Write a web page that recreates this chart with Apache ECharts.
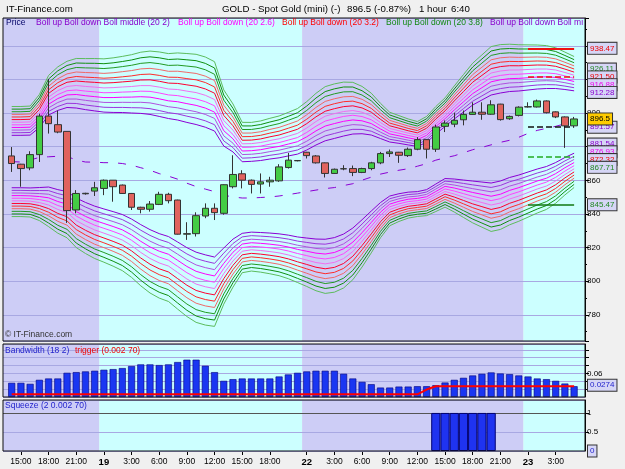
<!DOCTYPE html>
<html>
<head>
<meta charset="utf-8">
<script src="https://cdn.jsdelivr.net/npm/echarts@6/dist/echarts.min.js"></script>
<style>
html, body { margin: 0; padding: 0; background: #f0f0f0; }
#chart { width: 625px; height: 469px; }
</style>
</head>
<body>
<div id="chart"></div>
<script>
// hourly sessions shown on the chart
const sessionDays = [18, 19, 22, 23];
const sessionStartHour = [14, 0, 0, 0];
const sessionBarCount = [10, 22, 24, 6];

// candles (1 hour)
const opens = [874.5, 869.6, 867.4, 875.3, 898.2, 893.1, 889.1, 842.4, 852.0, 853.6,
  855.2, 860.1, 857.2, 852.2, 844.0, 842.8, 845.7, 851.7, 848.3, 828.0,
  828.3, 838.8, 843.4, 840.4, 856.2, 863.9, 860.1, 857.8, 859.1, 859.7,
  867.6, 871.8, 876.7, 874.5, 870.4, 864.1, 866.8, 867.0, 864.7, 867.0,
  870.4, 875.9, 876.7, 874.7, 878.5, 884.2, 878.5, 892.1, 893.4, 896.0,
  899.2, 900.5, 899.3, 905.3, 896.6, 898.6, 903.6, 903.6, 907.2, 900.7,
  897.7, 892.4];
const closes = [870.0, 867.0, 875.3, 898.2, 893.7, 888.7, 842.0, 852.2, 852.3, 855.6,
  860.1, 856.2, 852.2, 844.0, 842.8, 845.9, 851.7, 847.9, 828.0, 828.3,
  839.0, 843.4, 840.8, 857.4, 863.5, 860.1, 857.6, 859.1, 860.1, 868.0,
  872.0, 871.6, 874.7, 870.4, 864.1, 866.6, 866.9, 864.7, 867.0, 870.4,
  875.9, 876.9, 874.9, 878.5, 884.2, 878.5, 891.7, 894.0, 895.7, 899.2,
  900.5, 899.3, 904.9, 896.1, 898.0, 903.5, 903.8, 907.2, 900.2, 897.7,
  892.4, 896.5];
const lows = [865.0, 856.2, 866.0, 870.9, 887.8, 888.0, 834.7, 840.4, 851.5, 850.7,
  851.2, 847.3, 852.0, 842.4, 840.4, 841.4, 845.3, 846.3, 827.8, 824.6,
  826.6, 837.5, 836.4, 839.6, 855.2, 855.2, 852.2, 852.2, 856.2, 859.1,
  867.0, 871.3, 873.0, 870.0, 861.7, 863.8, 866.0, 862.5, 864.3, 866.0,
  869.6, 873.9, 870.4, 873.9, 877.9, 873.0, 876.9, 888.7, 891.6, 892.7,
  899.0, 896.0, 899.0, 895.5, 896.0, 898.0, 903.3, 903.3, 899.8, 897.0,
  879.3, 892.0];
const highs = [879.8, 869.8, 877.3, 899.6, 920.3, 901.5, 889.1, 854.2, 852.6, 859.1,
  860.5, 860.1, 857.5, 852.5, 844.3, 847.7, 853.2, 852.6, 848.5, 835.1,
  841.0, 846.3, 846.3, 857.6, 874.9, 866.0, 860.5, 864.1, 862.1, 869.6,
  876.3, 872.0, 876.9, 875.0, 870.6, 867.0, 869.0, 868.8, 867.5, 871.0,
  876.9, 878.3, 876.9, 879.5, 885.7, 884.4, 893.1, 895.6, 900.2, 901.5,
  906.4, 906.4, 907.6, 905.5, 898.5, 904.0, 906.4, 908.0, 907.5, 901.0,
  898.0, 897.7];

const bandCenter = [871.18, 871.18, 871.18, 873.56, 877.43, 878.02, 878.32, 876.24, 874.45, 872.97,
  871.78, 870.89, 870.0, 868.51, 866.73, 864.94, 863.16, 861.67, 859.59, 857.21,
  855.25, 853.65, 851.86, 850.08, 850.97, 849.78, 850.26, 850.38, 850.67, 850.79,
  850.97, 850.97, 851.86, 853.05, 854.24, 855.43, 857.21, 859.59, 862.15, 864.35,
  865.83, 866.73, 867.02, 867.02, 866.73, 868.51, 872.67, 876.54, 878.62, 880.4,
  882.18, 883.37, 884.56, 885.75, 887.24, 888.13, 889.32, 890.51, 891.4, 892.59,
  893.78, 894.67];
const bandSd = [7.79, 7.79, 7.85, 8.92, 10.7, 11.77, 12.49, 13.38, 13.79, 14.15,
  14.39, 14.74, 15.16, 15.76, 16.53, 17.12, 17.42, 17.54, 18.13, 18.61,
  18.97, 18.97, 18.73, 15.16, 12.96, 10.64, 10.52, 10.7, 11.0, 11.3,
  11.77, 12.31, 13.08, 13.97, 14.63, 14.74, 14.57, 13.97, 12.78, 11.3,
  9.51, 8.03, 7.49, 7.02, 6.72, 7.02, 7.43, 7.73, 8.92, 10.11,
  11.3, 12.19, 13.08, 13.08, 12.78, 12.49, 12.19, 11.89, 11.59, 11.0,
  10.11, 9.27];
// dashed Boll middle line
const bollMiddle = [871.1, 870.9, 872.0, 873.7, 874.0, 874.3, 874.3, 872.0, 870.9, 870.8,
  870.5, 870.5, 870.0, 869.0, 867.5, 866.0, 864.0, 862.5, 860.7, 858.3,
  856.3, 854.8, 853.3, 851.2, 850.1, 849.5, 849.5, 849.8, 850.1, 850.7,
  851.5, 852.4, 853.3, 854.2, 855.1, 855.7, 856.9, 858.0, 860.1, 861.9,
  863.7, 864.9, 866.0, 866.9, 868.4, 869.9, 872.0, 873.4, 874.6, 876.4,
  878.2, 879.6, 881.1, 882.6, 883.8, 885.6, 887.9, 889.7, 890.9, 892.1,
  893.6, 894.4];
const bandK = [2.0, 2.2, 2.4, 2.6, 2.8, 3.0, 3.2, 3.4, 3.6, 3.8, 4.0, 4.2];
const bandColors = ['#8a00d4', '#9b35dd', '#b050e0', '#ff00ff', '#ff44ff', '#f070f0',
  '#ff0030', '#ff2a2a', '#f06868', '#229a22', '#0f900f', '#5cbc5c'];

// Bandwidth (18 2) and trigger
const bandwidth = [0.036, 0.036, 0.0334, 0.0437, 0.0471, 0.0471, 0.0616, 0.0633, 0.0651, 0.0668,
  0.0693, 0.071, 0.0736, 0.0788, 0.083, 0.083, 0.0813, 0.083, 0.089, 0.095,
  0.095, 0.0796, 0.0633, 0.0411, 0.0454, 0.0471, 0.0471, 0.0471, 0.0471, 0.0522,
  0.0574, 0.0616, 0.0651, 0.0668, 0.0668, 0.0668, 0.0591, 0.0471, 0.0385, 0.0325,
  0.024, 0.024, 0.0265, 0.0265, 0.0274, 0.0274, 0.030, 0.0368, 0.0437, 0.0488,
  0.0548, 0.0591, 0.0625, 0.0599, 0.0582, 0.0548, 0.0522, 0.0471, 0.0454, 0.0411,
  0.0342, 0.0274];
const trigger = [0.0068, 0.0068, 0.0068, 0.0068, 0.0068, 0.0068, 0.0068, 0.0068, 0.0068, 0.0068,
  0.0068, 0.0068, 0.0068, 0.0068, 0.0068, 0.0068, 0.0068, 0.0068, 0.0068, 0.0068,
  0.0068, 0.0068, 0.0068, 0.0068, 0.0068, 0.0068, 0.0068, 0.0068, 0.0068, 0.0068,
  0.0068, 0.0068, 0.0068, 0.0068, 0.0068, 0.0068, 0.0068, 0.0068, 0.0068, 0.0068,
  0.0068, 0.0068, 0.0068, 0.0068, 0.0068, 0.019, 0.0274, 0.0274, 0.0274, 0.0274,
  0.0274, 0.0274, 0.0274, 0.0274, 0.0274, 0.0274, 0.0274, 0.0274, 0.0274, 0.0274,
  0.0274, 0.0274];
// Squeeze (2 0.002 70)
const squeeze = [0, 0, 0, 0, 0, 0, 0, 0, 0, 0, 0, 0, 0, 0, 0, 0, 0, 0, 0, 0,
  0, 0, 0, 0, 0, 0, 0, 0, 0, 0, 0, 0, 0, 0, 0, 0, 0, 0, 0, 0,
  0, 0, 0, 0, 0, 0, 1, 1, 1, 1, 1, 1, 1, 0, 0, 0, 0, 0, 0, 0, 0, 0];

// value tags on the right price scale
const tagValues = [938.47, 926.11, 921.50, 916.88, 912.28, 891.57, 881.54, 876.93, 872.32, 867.71, 845.47];
const tagColors = ['#ee0000', '#228822', '#ee0000', '#ee00ee', '#8800cc', '#8800cc', '#8800cc', '#ee00ee', '#ee0000', '#228822', '#228822'];
const lastPrice = 896.5;
const lastBandwidth = 0.0274;
const lastSqueeze = 0;

// short level lines over the last session
const levelValues = [938.47, 921.50, 891.57, 874.30, 845.47];
const levelColors = ['#ee1111', '#ee1111', '#111111', '#22aa22', '#117711'];
const levelTypes = ['solid', 'dashed', 'dashed', 'dashed', 'solid'];
const levelWidths = [2, 1.5, 1.5, 1.5, 1.5];
const levelFrom = 56, levelTo = 61;

// categories
const categories = [], hours = [], dayOf = [];
sessionDays.forEach((d, s) => {
  for (let h = 0; h < sessionBarCount[s]; h++) {
    const hr = sessionStartHour[s] + h;
    hours.push(hr);
    dayOf.push(d);
    categories.push(d + ' ' + hr + ':00');
  }
});
const N = categories.length;
const dayStarts = hours.map((h, i) => (h === 0 ? i : -1)).filter(i => i >= 0);

// layout
const W = 625;
const SLOT = 9.22;
const DATA_LEFT = 7.09;
const FRAME_LEFT = 3, FRAME_RIGHT = 585;
const dataRight = W - (DATA_LEFT + SLOT * N);
const frameMin = (FRAME_LEFT - DATA_LEFT) / SLOT;
const frameMax = (FRAME_RIGHT - DATA_LEFT) / SLOT;
const panels = [{ top: 18, bottom: 341 }, { top: 344, bottom: 397 }, { top: 400, bottom: 451 }];
const FONT = 'Liberation Sans';
const LAVENDER = '#cdcdf6', CYAN = '#ccffff', GRIDLINE = '#a8a8e2';

const grids = [];
panels.forEach(p => {
  grids.push({ left: FRAME_LEFT, right: W - FRAME_RIGHT, top: p.top, height: p.bottom - p.top,
    show: true, borderColor: '#111', borderWidth: 1, z: 4 });
  grids.push({ left: DATA_LEFT, right: dataRight, top: p.top, height: p.bottom - p.top, show: false });
});

function showLabel(i) {
  if (hours[i] % 3 !== 0) return false;
  if (hours[i] !== 0 && (hours[i + 1] === 0 || hours[i + 2] === 0)) return false;
  return true;
}

const xAxes = [];
panels.forEach((p, k) => {
  xAxes.push({ gridIndex: 2 * k, type: 'value', min: frameMin, max: frameMax, show: false });
  const last = k === panels.length - 1;
  xAxes.push({
    gridIndex: 2 * k + 1, type: 'category', data: categories, boundaryGap: true,
    axisLine: { show: false, onZero: false },
    axisTick: last ? { show: true, interval: (i) => showLabel(i), alignWithLabel: true, length: 4,
      lineStyle: { color: '#000' } } : { show: false },
    axisLabel: last ? {
      show: true, interval: (i) => showLabel(i), margin: 6, fontSize: 8.5, color: '#000', fontFamily: FONT,
      formatter: (v, i) => hours[i] === 0 ? '{d|' + dayOf[i] + '}' : hours[i] + ':00',
      rich: { d: { fontWeight: 'bold', fontSize: 9.5, fontFamily: FONT, color: '#000' } }
    } : { show: false },
    splitLine: { show: false }
  });
});

const axisCommon = {
  position: 'right', z: 2,
  axisLine: { show: true, onZero: false, lineStyle: { color: '#000' } },
  axisTick: { show: true, length: 4, lineStyle: { color: '#000' } },
  splitLine: { show: true, lineStyle: { color: GRIDLINE, width: 1 } }
};
const yAxes = [
  Object.assign({}, axisCommon, {
    gridIndex: 0, type: 'value', min: 764.5, max: 956.5, splitNumber: 10,
    minorTick: { show: true, splitNumber: 2, length: 2, lineStyle: { color: '#000' } },
    axisLabel: { showMinLabel: false, showMaxLabel: false, fontSize: 8, margin: 2, color: '#000', fontFamily: FONT }
  }),
  { gridIndex: 1, type: 'value', min: 764.5, max: 956.5, show: false },
  Object.assign({}, axisCommon, {
    gridIndex: 2, type: 'value', min: 0, max: 0.135, interval: 0.02,
    axisLabel: { showMinLabel: false, showMaxLabel: false, fontSize: 8, margin: 2, color: '#000', fontFamily: FONT,
      formatter: v => Math.abs(v - 0.06) < 1e-6 ? '0.06' : '' }
  }),
  { gridIndex: 3, type: 'value', min: 0, max: 0.135, show: false },
  Object.assign({}, axisCommon, {
    gridIndex: 4, type: 'value', min: 0, max: 1.34, interval: 0.5,
    splitLine: { show: true, lineStyle: { color: [GRIDLINE, GRIDLINE, '#555', GRIDLINE], width: 1 } },
    axisLabel: { showMinLabel: false, showMaxLabel: false, fontSize: 8, margin: 2, color: '#000', fontFamily: FONT }
  }),
  { gridIndex: 5, type: 'value', min: 0, max: 1.34, show: false }
];

// day shading
const bounds = [frameMin].concat(dayStarts, [frameMax]);
const shadeAreas = [];
for (let j = 0; j < bounds.length - 1; j++) {
  shadeAreas.push([{ xAxis: bounds[j], itemStyle: { color: j % 2 === 0 ? LAVENDER : CYAN } }, { xAxis: bounds[j + 1] }]);
}

const series = [];
panels.forEach((p, k) => {
  series.push({ type: 'line', xAxisIndex: 2 * k, yAxisIndex: 2 * k, data: [], silent: true, z: 0,
    markArea: { silent: true, data: shadeAreas } });
});

// bands, outer ones first
for (let j = bandK.length - 1; j >= 0; j--) {
  [1, -1].forEach(sign => {
    series.push({
      type: 'line', xAxisIndex: 1, yAxisIndex: 1, z: 3, symbol: 'none', silent: true,
      lineStyle: { color: bandColors[j], width: 1 },
      data: bandCenter.map((m, i) => +(m + sign * bandK[j] * bandSd[i]).toFixed(2))
    });
  });
}
series.push({
  type: 'line', xAxisIndex: 1, yAxisIndex: 1, z: 3, symbol: 'none', silent: true,
  lineStyle: { color: '#8a00d4', width: 1, type: [8, 10] }, data: bollMiddle
});

// candles
series.push({
  type: 'candlestick', xAxisIndex: 1, yAxisIndex: 1, z: 4, barWidth: 7, silent: true,
  itemStyle: { color: '#44cc44', color0: '#e0635e', borderColor: '#333', borderColor0: '#333', borderWidth: 1 },
  data: opens.map((o, i) => [o, closes[i], lows[i], highs[i]])
});

// level lines over the last session
series.push({
  type: 'line', xAxisIndex: 1, yAxisIndex: 1, data: [], silent: true,
  markLine: {
    silent: true, symbol: ['none', 'none'], label: { show: false },
    data: levelValues.map((v, j) => [
      { coord: [levelFrom, v], lineStyle: { color: levelColors[j], type: levelTypes[j], width: levelWidths[j] } },
      { coord: [levelTo, v] }
    ])
  }
});

function tag(value, text, color, bg) {
  return {
    yAxis: value,
    label: { show: true, position: 'end', distance: 3, formatter: text, color: color,
      backgroundColor: bg, borderColor: '#333', borderWidth: 1, padding: [1, 2, 0, 2],
      fontSize: 8, fontFamily: FONT, lineHeight: 10 }
  };
}
function tagSeries(axisIndex, items) {
  return {
    type: 'line', xAxisIndex: axisIndex, yAxisIndex: axisIndex, data: [], silent: true, clip: false,
    markLine: { silent: true, symbol: ['none', 'none'],
      lineStyle: { color: 'transparent', width: 1, type: 'solid' }, data: items }
  };
}
const priceTags = tagValues.map((v, j) => tag(v, v.toFixed(2), tagColors[j], '#d6d6f6'));
priceTags.push(tag(lastPrice, String(lastPrice), '#000', '#ffcc00'));
series.push(tagSeries(0, priceTags));

// bandwidth panel
series.push({
  type: 'bar', xAxisIndex: 3, yAxisIndex: 3, z: 3, barWidth: 7, silent: true,
  itemStyle: { color: '#1a36f2', borderColor: '#00007a', borderWidth: 0.6 },
  data: bandwidth
});
series.push({
  type: 'line', xAxisIndex: 3, yAxisIndex: 3, z: 4, symbol: 'none', silent: true,
  lineStyle: { color: '#ff0000', width: 2 }, data: trigger
});
series.push(tagSeries(2, [tag(lastBandwidth, String(lastBandwidth), '#2222cc', '#d6d6f6')]));

// squeeze panel
series.push({
  type: 'bar', xAxisIndex: 5, yAxisIndex: 5, z: 3, barCategoryGap: '0%', silent: true,
  itemStyle: { color: '#1f33f0', borderColor: '#000070', borderWidth: 1 },
  data: squeeze.map(v => (v ? v : null))
});
series.push(tagSeries(4, [tag(lastSqueeze, String(lastSqueeze), '#2222cc', '#d6d6f6')]));

// texts
function txt(x, y, text, color, size, weight) {
  return { type: 'text', x: x, y: y, z: 10, silent: true,
    style: { text: text, fill: color, font: (weight || 'normal') + ' ' + size + 'px "' + FONT + '"', verticalAlign: 'middle' } };
}
const legendTexts = [
  ['Price', '#000066', 6],
  ['Boll up Boll down Boll middle (20 2)', '#8800cc', 36],
  ['Boll up Boll down (20 2.6)', '#ff00ff', 178],
  ['Boll up Boll down (20 3.2)', '#ff0000', 282],
  ['Boll up Boll down (20 3.8)', '#118811', 386],
  ['Boll up Boll down Boll mi', '#8800cc', 490]
];
const graphics = [
  txt(6, 9, 'IT-Finance.com', '#000', 9.7),
  txt(222, 9, 'GOLD - Spot Gold (mini) (-)', '#000', 9.7),
  txt(347, 9, '896.5 (-0.87%)', '#000', 9.7),
  txt(419, 9, '1 hour', '#000', 9.7),
  txt(451, 9, '6:40', '#000', 9.7),
  txt(5, 335, '\u00a9 IT-Finance.com', '#333', 8.5),
  txt(5, 351, 'Bandwidth (18 2)', '#2222cc', 8.5),
  txt(75, 351, 'trigger (0.002 70)', '#ee0000', 8.5),
  txt(5, 406, 'Squeeze (2 0.002 70)', '#2222cc', 8.5)
];
legendTexts.forEach(t => graphics.push(txt(t[2], 23, t[0], t[1], 8.5)));

const chart = echarts.init(document.getElementById('chart'));
chart.setOption({
  animation: false,
  backgroundColor: '#f0f0f0',
  grid: grids,
  xAxis: xAxes,
  yAxis: yAxes,
  series: series,
  graphic: graphics
});
</script>
</body>
</html>
